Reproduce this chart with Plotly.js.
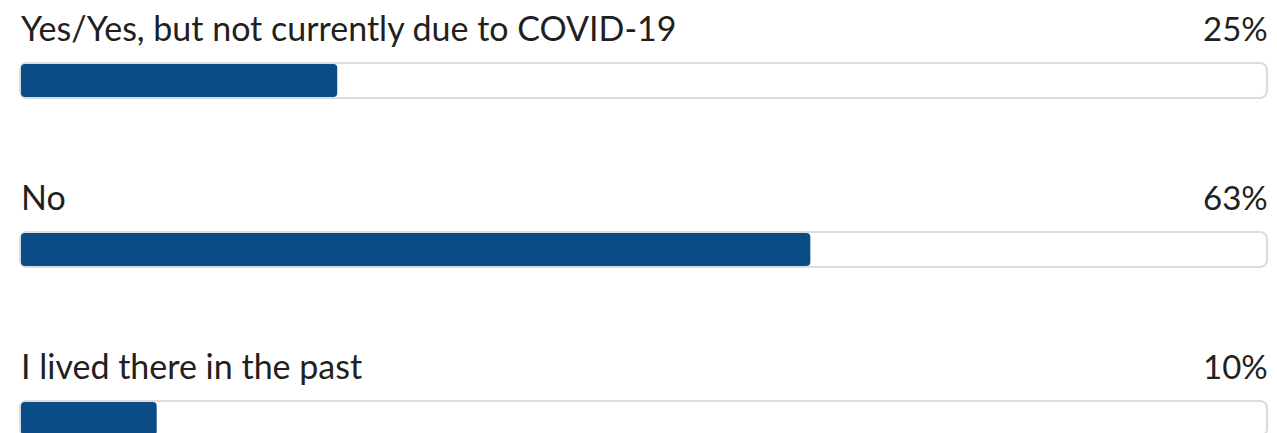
<!DOCTYPE html>
<html>
<head>
<meta charset="utf-8">
<script src="https://cdn.plot.ly/plotly-3.0.1.min.js"></script>
<style>
  html, body { margin: 0; padding: 0; background: #ffffff; }
  #chart { width: 1277px; height: 433px; }
</style>
</head>
<body>
<div id="chart"></div>
<script>
// ---- data ----
const categories = [
  "Yes/Yes, but not currently due to COVID-19",
  "No",
  "I lived there in the past"
];
const values = [25.4, 63.4, 10.9];          // share of respondents (%)
const valueLabels = ["25%", "63%", "10%"];  // labels as printed

// ---- styling ----
const FILL = "#0a4c86";
const TRACK_LINE = "#dcdcdc";
const TEXT = "#231f20";
const FONT = "Lato, 'Open Sans', sans-serif";

const idx = categories.map((_, i) => i);

const track = {
  type: "bar",
  orientation: "h",
  y: idx,
  x: categories.map(() => 100.16),
  base: categories.map(() => -0.08),
  width: 0.207,
  marker: { color: "#ffffff", line: { color: TRACK_LINE, width: 2.2 }, cornerradius: 7 },
  hoverinfo: "skip",
  showlegend: false
};

const fill = {
  type: "bar",
  orientation: "h",
  y: idx,
  x: values,
  base: categories.map(() => 0),
  width: 0.195,
  marker: { color: FILL, line: { width: 0 }, cornerradius: 4 },
  hoverinfo: "skip",
  showlegend: false
};

const annotations = [];
idx.forEach(i => {
  annotations.push({
    xref: "paper", yref: "y", x: 19 / 1277, y: i,
    xanchor: "left", yanchor: "middle", yshift: 53,
    text: categories[i], showarrow: false,
    font: { family: FONT, size: 34, color: TEXT }
  });
  annotations.push({
    xref: "paper", yref: "y", x: 1270 / 1277, y: i,
    xanchor: "right", yanchor: "middle", yshift: 53,
    text: valueLabels[i], showarrow: false,
    font: { family: FONT, size: 33, color: TEXT }
  });
});

const layout = {
  width: 1277, height: 433,
  margin: { l: 0, r: 0, t: 0, b: 0, pad: 0 },
  paper_bgcolor: "#ffffff", plot_bgcolor: "#ffffff",
  barmode: "overlay",
  xaxis: { range: [-21 / 12.45, (1277 - 21) / 12.45], visible: false, fixedrange: true },
  yaxis: { range: [(433 - 80.5) / 169, -80.5 / 169], visible: false, fixedrange: true },
  annotations: annotations,
  showlegend: false
};

Plotly.newPlot("chart", [track, fill], layout, { displayModeBar: false, staticPlot: true });
</script>
</body>
</html>
